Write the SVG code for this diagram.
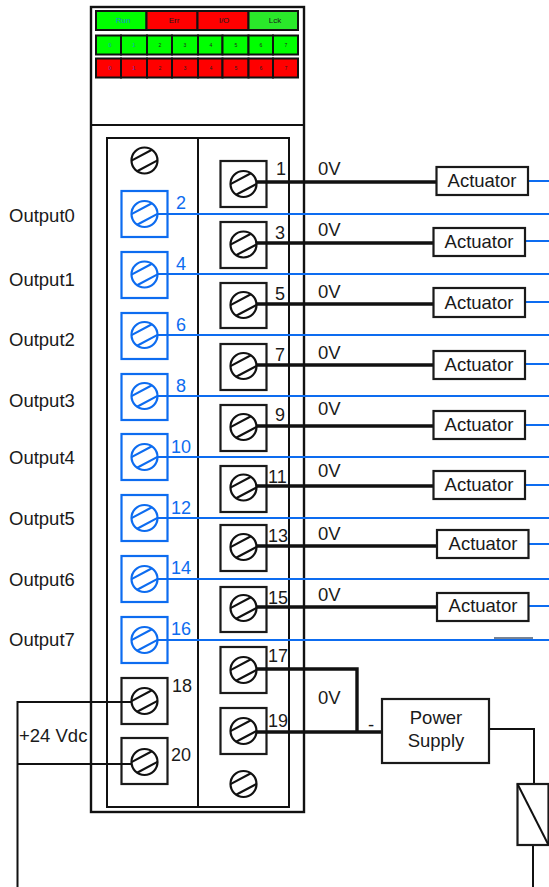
<svg xmlns="http://www.w3.org/2000/svg" width="549" height="887" viewBox="0 0 549 887">
<style>
text{font-family:"Liberation Sans",Arial,sans-serif;font-size:18.5px;fill:#1a1a1a}
.m{text-anchor:middle}
.n{font-size:18px}
.bt{fill:#0d6cf0}
.k{fill:#fff;stroke:#1a1a1a;stroke-width:2.2}
.b{fill:#fff;stroke:#0d6cf0;stroke-width:2.2}
.s{fill:#fff;stroke:#111;stroke-width:2.2}
.sb{fill:#fff;stroke:#0d6cf0;stroke-width:2.2}
.w{fill:none;stroke:#111;stroke-width:2}
.t{fill:none;stroke:#111;stroke-width:3.4}
.bl{fill:none;stroke:#0d6cf0;stroke-width:2}
.g{fill:#0f0;stroke:#111;stroke-width:2}
.r{fill:#f00;stroke:#111;stroke-width:2}
.d{font-size:5px;text-anchor:middle;fill:#222}
.l{font-size:8px;text-anchor:middle}
</style>
<defs>
<g id="sk"><circle r="13" class="s"/><path d="M-13,0.100L7.400,-10.700M-7.400,10.700L13,-0.100" class="s" fill="none"/></g>
<g id="sbl"><circle r="13" class="sb"/><path d="M-13,0.100L7.400,-10.700M-7.400,10.700L13,-0.100" class="sb" fill="none"/></g>
</defs>

<g id="module">
<rect x="91" y="7" width="213" height="805" fill="#fff" stroke="#111" stroke-width="2.4"/>
<path d="M91,125H304" stroke="#111" stroke-width="2" fill="none"/>
<rect x="107" y="138" width="182" height="669" fill="#fff" stroke="#111" stroke-width="2"/>
<path d="M198,138V807" stroke="#111" stroke-width="2" fill="none"/>
</g>

<g id="leds">
<rect x="96" y="11" width="50.500" height="19" class="g"/><rect x="146.500" y="11" width="51" height="19" class="r"/><rect x="197.500" y="11" width="51" height="19" class="r"/><rect x="248.500" y="11" width="49.500" height="19" fill="#2ae82a" stroke="#111" stroke-width="2"/>
<text x="123" y="23" class="l" style="fill:#1a8ad0">Run</text><text x="174" y="23" class="l">Err</text><text x="224" y="23" class="l">I/O</text><text x="275" y="23" class="l">Lck</text>
<rect x="96" y="35.500" width="25" height="19" class="g"/><rect x="121" y="35.500" width="26" height="19" class="g"/><rect x="147" y="35.500" width="25" height="19" class="g"/><rect x="172" y="35.500" width="26" height="19" class="g"/><rect x="198" y="35.500" width="24.500" height="19" class="g"/><rect x="222.500" y="35.500" width="26" height="19" class="g"/><rect x="248.500" y="35.500" width="24.500" height="19" class="g"/><rect x="273" y="35.500" width="25" height="19" class="g"/>
<rect x="96" y="58.500" width="25" height="19" class="r"/><rect x="121" y="58.500" width="26" height="19" class="r"/><rect x="147" y="58.500" width="25" height="19" class="r"/><rect x="172" y="58.500" width="26" height="19" class="r"/><rect x="198" y="58.500" width="24.500" height="19" class="r"/><rect x="222.500" y="58.500" width="26" height="19" class="r"/><rect x="248.500" y="58.500" width="24.500" height="19" class="r"/><rect x="273" y="58.500" width="25" height="19" class="r"/>
<text x="110" y="47" class="d" style="fill:#1a8ad0">0</text><text x="134" y="47" class="d" style="fill:#1a8ad0">1</text><text x="160" y="47" class="d">2</text><text x="185" y="47" class="d">3</text><text x="211" y="47" class="d">4</text><text x="236" y="47" class="d">5</text><text x="261" y="47" class="d">6</text><text x="286" y="47" class="d">7</text>
<text x="110" y="70" class="d" style="fill:#3a3ac0">0</text><text x="134" y="70" class="d" style="fill:#3a3ac0">1</text><text x="160" y="70" class="d">2</text><text x="185" y="70" class="d">3</text><text x="211" y="70" class="d">4</text><text x="236" y="70" class="d">5</text><text x="261" y="70" class="d">6</text><text x="286" y="70" class="d">7</text>
</g>

<g id="screw-top"><use href="#sk" x="144.500" y="160.500"/></g>
<g id="screw-bottom"><use href="#sk" x="243.500" y="784"/></g>

<g id="t1"><rect x="220.500" y="161" width="46" height="46" class="k"/><use href="#sk" x="243.500" y="184"/><text x="276" y="175" class="n">1</text></g>
<g id="t3"><rect x="220.500" y="222" width="46" height="46" class="k"/><use href="#sk" x="243.500" y="244.500"/><text x="275" y="239" class="n">3</text></g>
<g id="t5"><rect x="220.500" y="283" width="46" height="45" class="k"/><use href="#sk" x="243.500" y="305"/><text x="275" y="300" class="n">5</text></g>
<g id="t7"><rect x="220.500" y="344" width="46" height="46" class="k"/><use href="#sk" x="243.500" y="366"/><text x="275" y="361" class="n">7</text></g>
<g id="t9"><rect x="220.500" y="405" width="46" height="46" class="k"/><use href="#sk" x="243.500" y="427"/><text x="275" y="421" class="n">9</text></g>
<g id="t11"><rect x="220.500" y="466" width="46" height="46" class="k"/><use href="#sk" x="243.500" y="487.500"/><text x="268" y="483" class="n">11</text></g>
<g id="t13"><rect x="220.500" y="525" width="46" height="46" class="k"/><use href="#sk" x="243.500" y="547"/><text x="268" y="542" class="n">13</text></g>
<g id="t15"><rect x="220.500" y="587" width="46" height="45" class="k"/><use href="#sk" x="243.500" y="608"/><text x="268" y="604" class="n">15</text></g>
<g id="t17"><rect x="220.500" y="647" width="46" height="46" class="k"/><use href="#sk" x="243.500" y="670"/><text x="268" y="662" class="n">17</text></g>
<g id="t19"><rect x="220.500" y="708" width="46" height="46" class="k"/><use href="#sk" x="243.500" y="731"/><text x="268" y="727" class="n">19</text></g>

<g id="t2"><rect x="121.500" y="191" width="46" height="46" class="b"/><use href="#sbl" x="144.500" y="214"/><text x="176" y="209" class="n bt">2</text></g>
<g id="t4"><rect x="121.500" y="252" width="46" height="46" class="b"/><use href="#sbl" x="144.500" y="274.500"/><text x="176" y="270" class="n bt">4</text></g>
<g id="t6"><rect x="121.500" y="313" width="46" height="46" class="b"/><use href="#sbl" x="144.500" y="335"/><text x="176" y="331" class="n bt">6</text></g>
<g id="t8"><rect x="121.500" y="374" width="46" height="46" class="b"/><use href="#sbl" x="144.500" y="396"/><text x="176" y="392" class="n bt">8</text></g>
<g id="t10"><rect x="121.500" y="434" width="46" height="46" class="b"/><use href="#sbl" x="144.500" y="457"/><text x="171" y="453" class="n bt">10</text></g>
<g id="t12"><rect x="121.500" y="495" width="46" height="46" class="b"/><use href="#sbl" x="144.500" y="518"/><text x="171" y="514" class="n bt">12</text></g>
<g id="t14"><rect x="121.500" y="556" width="46" height="46" class="b"/><use href="#sbl" x="144.500" y="579"/><text x="171" y="574" class="n bt">14</text></g>
<g id="t16"><rect x="121.500" y="617" width="46" height="46" class="b"/><use href="#sbl" x="144.500" y="640"/><text x="171" y="635" class="n bt">16</text></g>
<g id="t18"><rect x="121.500" y="678" width="46" height="46" class="k"/><use href="#sk" x="144.500" y="701"/><text x="172" y="692" class="n">18</text></g>
<g id="t20"><rect x="121.500" y="738" width="46" height="46" class="k"/><use href="#sk" x="144.500" y="762"/><text x="171" y="761" class="n">20</text></g>

<g id="connectors">
<path class="bl" d="M157.500,214H549M157.500,274H549M157.500,335H549M157.500,396H549M157.500,457H549M157.500,518H549M157.500,579H549M157.500,640H549"/>
<path class="bl" d="M528,181H549M525,241H549M525,302H549M525,364H549M525,425H549M525,485H549M529,544H549M529,606H549"/>
<path d="M494,638H533" stroke="#4a5a70" stroke-width="1.500" fill="none"/>
<path class="t" d="M256,182H436M256,243H433M256,304H433M256,365H433M256,426H433M256,486H433M256,546H437M256,607H437"/>
<path class="t" d="M256,669H357V732M256,732H382"/>
<path class="w" d="M489,729H534V784M533,845V887"/>
<path class="w" d="M132,702H17.500V887M17.500,764H132"/>
</g>

<g id="labels-output">
<text x="9" y="222">Output0</text><text x="9" y="286">Output1</text><text x="9" y="346">Output2</text><text x="9" y="407">Output3</text><text x="9" y="464">Output4</text><text x="9" y="525">Output5</text><text x="9" y="586">Output6</text><text x="9" y="646">Output7</text>
<text x="19" y="742">+24 Vdc</text>
</g>

<g id="labels-0v">
<text x="318" y="175">0V</text><text x="318" y="236">0V</text><text x="318" y="298">0V</text><text x="318" y="359">0V</text><text x="318" y="415">0V</text><text x="318" y="477">0V</text><text x="318" y="540">0V</text><text x="318" y="601">0V</text><text x="318" y="704">0V</text><text x="368" y="731">-</text>
</g>

<g id="a1"><rect x="436.500" y="167" width="91.500" height="28" class="k"/><text x="482" y="187" class="m">Actuator</text></g>
<g id="a2"><rect x="433.500" y="228" width="91.500" height="28" class="k"/><text x="479" y="248" class="m">Actuator</text></g>
<g id="a3"><rect x="433.500" y="288" width="91.500" height="29" class="k"/><text x="479" y="309" class="m">Actuator</text></g>
<g id="a4"><rect x="433.500" y="351" width="91.500" height="28" class="k"/><text x="479" y="371" class="m">Actuator</text></g>
<g id="a5"><rect x="433.500" y="411" width="91.500" height="28" class="k"/><text x="479" y="431" class="m">Actuator</text></g>
<g id="a6"><rect x="433.500" y="471" width="91.500" height="28" class="k"/><text x="479" y="491" class="m">Actuator</text></g>
<g id="a7"><rect x="437" y="530" width="91.500" height="28" class="k"/><text x="483" y="550" class="m">Actuator</text></g>
<g id="a8"><rect x="437" y="593" width="91.500" height="28" class="k"/><text x="483" y="612" class="m">Actuator</text></g>

<g id="power-supply"><rect x="382" y="699" width="107" height="64" class="k"/><text x="436" y="724" class="m">Power</text><text x="436" y="747" class="m">Supply</text></g>
<g id="coil"><rect x="517.500" y="784" width="31" height="61" class="k"/><path d="M517.500,784L548.500,845" class="w"/></g>
</svg>
